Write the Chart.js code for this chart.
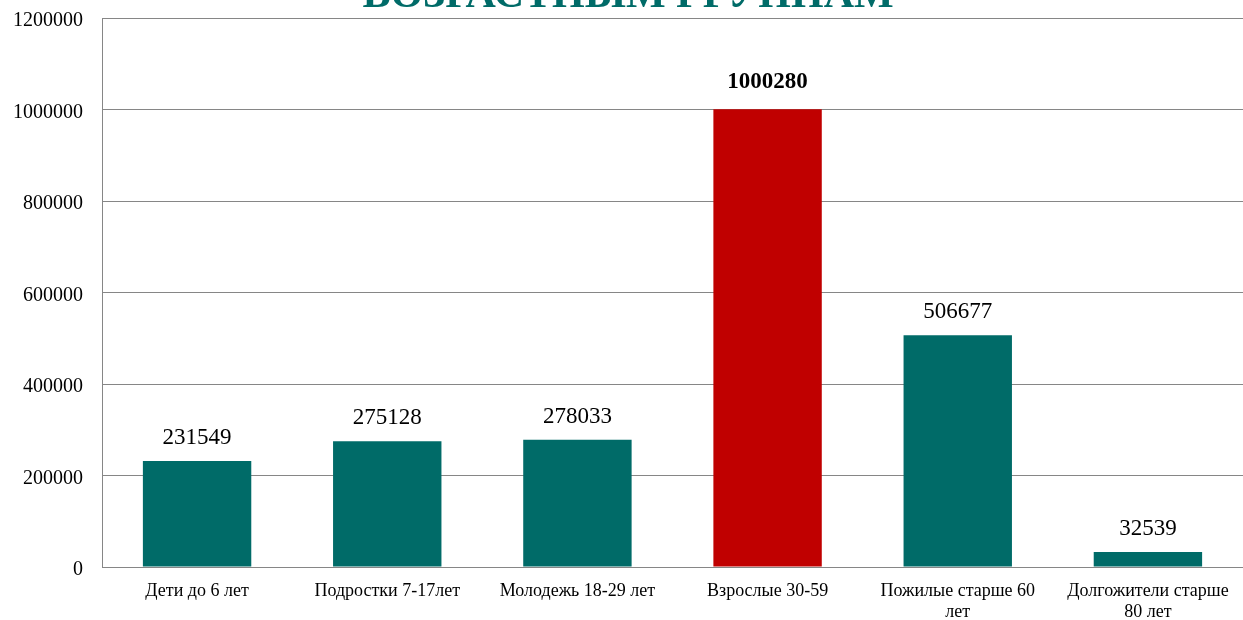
<!DOCTYPE html>
<html><head><meta charset="utf-8">
<script src="https://cdn.jsdelivr.net/npm/chart.js@4/dist/chart.umd.min.js"></script>
<style>html,body{margin:0;padding:0;background:#fff;}#wrap{width:1243px;height:620px;position:relative;}</style>
</head><body><div id="wrap"><canvas id="c" width="1243" height="620"></canvas></div>
<script>
const titleText = "ВОЗРАСТНЫМ ГРУППАМ";
const categories = [
  "Дети до 6 лет",
  "Подростки 7-17лет",
  "Молодежь 18-29 лет",
  "Взрослые 30-59",
  ["Пожилые старше 60", "лет"],
  ["Долгожители старше", "80 лет"]
];
const values = [231549, 275128, 278033, 1000280, 506677, 32539];
const barColors = ["#006B68", "#006B68", "#006B68", "#C00000", "#006B68", "#006B68"];
const boldLabel = [false, false, false, true, false, false];
const yTicks = [0, 200000, 400000, 600000, 800000, 1000000, 1200000];

const serif = "'Liberation Serif','Times New Roman',serif";

const titlePlugin = {
  id: 'clippedTitle',
  afterDraw(chart) {
    const ctx = chart.ctx;
    ctx.save();
    ctx.font = "bold 42px " + serif;
    ctx.fillStyle = "#006B68";
    ctx.textAlign = "center";
    ctx.textBaseline = "alphabetic";
    ctx.fillText(titleText, 628, 7);
    ctx.restore();
  }
};
const labelPlugin = {
  id: 'valueLabels',
  afterDatasetsDraw(chart) {
    const ctx = chart.ctx;
    const meta = chart.getDatasetMeta(0);
    ctx.save();
    ctx.fillStyle = "#000";
    ctx.textAlign = "center";
    ctx.textBaseline = "middle";
    meta.data.forEach((bar, i) => {
      ctx.font = (boldLabel[i] ? "bold " : "") + "23px " + serif;
      ctx.fillText(String(values[i]), bar.x, bar.y - (boldLabel[i] ? 27 : 23));
    });
    ctx.restore();
  }
};

new Chart(document.getElementById('c'), {
  type: 'bar',
  data: {
    labels: categories,
    datasets: [{ data: values, backgroundColor: barColors, borderWidth: 0,
      barPercentage: 0.57, categoryPercentage: 1.0 }]
  },
  options: {
    responsive: false,
    animation: false,
    layout: { padding: { top: 18, right: 0, left: 0, bottom: 0 } },
    plugins: { legend: { display: false }, tooltip: { enabled: false }, title: { display: false } },
    scales: {
      x: {
        grid: { display: false, drawTicks: false },
        border: { display: true, color: "#868686", width: 1 },
        ticks: { color: "#000", font: { family: serif, size: 18, lineHeight: 1.15 }, padding: 14, maxRotation: 0, autoSkip: false },
        afterFit(s) { s.height = 53; s.paddingLeft = 0; s.paddingRight = 0; }
      },
      y: {
        min: 0, max: 1200000,
        afterBuildTicks(s) { s.ticks = yTicks.map(v => ({ value: v })); },
        grid: { color: "#868686", lineWidth: 1, drawTicks: false },
        border: { display: true, color: "#868686", width: 1 },
        ticks: { color: "#000", font: { family: serif, size: 20 }, padding: 19, labelOffset: 3, callback: v => String(v) },
        afterFit(s) { s.width = 102; s.paddingTop = 0; s.paddingBottom = 0; }
      }
    }
  },
  plugins: [titlePlugin, labelPlugin]
});
</script></body></html>
